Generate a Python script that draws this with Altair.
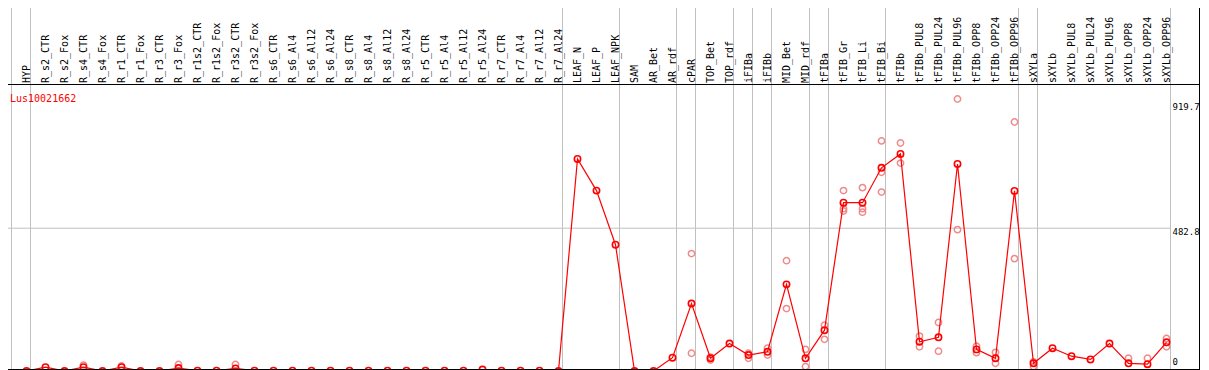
import altair as alt
import pandas as pd

# ---------------- data ----------------
categories = [
    "HYP", "R_s2_CTR", "R_s2_Fox", "R_s4_CTR", "R_s4_Fox", "R_r1_CTR", "R_r1_Fox",
    "R_r3_CTR", "R_r3_Fox", "R_r1s2_CTR", "R_r1s2_Fox", "R_r3s2_CTR", "R_r3s2_Fox",
    "R_s6_CTR", "R_s6_Al4", "R_s6_Al12", "R_s6_Al24", "R_s8_CTR", "R_s8_Al4",
    "R_s8_Al12", "R_s8_Al24", "R_r5_CTR", "R_r5_Al4", "R_r5_Al12", "R_r5_Al24",
    "R_r7_CTR", "R_r7_Al4", "R_r7_Al12", "R_r7_Al24", "LEAF_N", "LEAF_P", "LEAF_NPK",
    "SAM", "AR_Bet", "AR_rdf", "cPAR", "TOP_Bet", "TOP_rdf", "iFIBa", "iFIBb",
    "MID_Bet", "MID_rdf", "tFIBa", "tFIB_Gr", "tFIB_Li", "tFIB_Bi", "tFIBb",
    "tFIBb_PUL8", "tFIBb_PUL24", "tFIBb_PUL96", "tFIBb_OPP8", "tFIBb_OPP24",
    "tFIBb_OPP96", "sXYLa", "sXYLb", "sXYLb_PUL8", "sXYLb_PUL24", "sXYLb_PUL96",
    "sXYLb_OPP8", "sXYLb_OPP24", "sXYLb_OPP96",
]
means = [
    0, 13, 0, 13, 0, 13, 0, 0, 10, 1, 1, 9, 1,
    1, 1, 1, 1, 1, 1, 1, 1, 1, 1, 1, 5, 1, 1, 1, 0,
    717, 610, 427, 0, 0, 45, 228, 43, 93, 54, 65, 293, 43, 138,
    569, 569, 687, 734, 99, 114, 700, 73, 43, 609,
    26, 77, 50, 39, 93, 26, 23, 97,
]
rep_categories = [
    "R_s4_CTR", "R_r1_CTR", "R_r3_Fox", "R_r3s2_CTR",
    "cPAR", "cPAR", "TOP_Bet", "TOP_Bet", "iFIBa", "iFIBa", "iFIBb", "iFIBb",
    "MID_Bet", "MID_Bet", "MID_rdf", "MID_rdf", "tFIBa", "tFIBa",
    "tFIB_Gr", "tFIB_Gr", "tFIB_Gr", "tFIB_Li", "tFIB_Li", "tFIB_Li",
    "tFIB_Bi", "tFIB_Bi", "tFIB_Bi", "tFIBb", "tFIBb",
    "tFIBb_PUL8", "tFIBb_PUL8", "tFIBb_PUL24", "tFIBb_PUL24",
    "tFIBb_PUL96", "tFIBb_PUL96", "tFIBb_OPP8", "tFIBb_OPP8",
    "tFIBb_OPP24", "tFIBb_OPP24", "tFIBb_OPP96", "tFIBb_OPP96",
    "sXYLa", "sXYLa", "sXYLb_OPP8", "sXYLb_OPP24", "sXYLb_OPP96", "sXYLb_OPP96",
]
rep_values = [
    20, 17, 22, 22,
    397, 60, 37, 47, 60, 43, 77, 54,
    373, 211, 73, 15, 155, 107,
    610, 549, 541, 620, 549, 537,
    778, 672, 605, 771, 703,
    118, 82, 164, 67,
    919.7, 478, 84, 62,
    63, 26, 842, 380,
    31, 15, 43, 43, 110, 82,
]
separator_after = [
    "HYP", "R_r7_Al24", "LEAF_NPK", "AR_rdf", "cPAR", "TOP_rdf", "iFIBa", "iFIBb",
    "MID_rdf", "tFIBa", "tFIB_Bi", "tFIBb_OPP96", "sXYLa", "sXYLb_OPP96",
]
tick_values = [919.7, 482.8, 0]
tick_labels = ["919.7", "482.8", "0"]
gridline_values = [482.8]
gene_id = "Lus10021662"

# ---------------- layout ----------------
W, H = 1209, 370
VISIBLE_W = 1201             # page margin leaves this much of the width visible
X0, DX = 26.5, 19.0          # pixel of first category, spacing
Y0 = 371.0                   # pixel of value 0
K = (Y0 - 99.0) / 919.7      # px per unit
FONT = "DejaVu Sans Mono"
GRID = "#c0c0c0"

idx = {c: i for i, c in enumerate(categories)}
mean_df = pd.DataFrame({"cat": categories, "i": list(range(len(categories))), "v": means})
rep_df = pd.DataFrame({"cat": rep_categories,
                       "i": [idx[c] for c in rep_categories], "v": rep_values})
sep_df = pd.DataFrame({"pos": [-1 + 4 / DX] + [idx[c] + 4 / DX for c in separator_after]})
grid_df = pd.DataFrame({"v": gridline_values})

xs = alt.Scale(domain=[-X0 / DX, (W - X0) / DX], range=[0, W], nice=False, zero=False)
ys = alt.Scale(domain=[(Y0 - H) / K, Y0 / K], range=[H, 0], nice=False, zero=False)

X = alt.X("i:Q", scale=xs, axis=None)
Y = alt.Y("v:Q", scale=ys, axis=None)

grid = alt.Chart(grid_df).mark_rule(color=GRID, strokeWidth=1).encode(
    y=Y, x=alt.value(0), x2=alt.value(1170.5))

seps = alt.Chart(sep_df).mark_rule(color=GRID, strokeWidth=1).encode(
    x=alt.X("pos:Q", scale=xs, axis=None), y=alt.value(0), y2=alt.value(H))

reps = alt.Chart(rep_df).mark_point(shape="circle", filled=False, size=40,
                                    strokeWidth=1.5, color="#f08a8a", opacity=1).encode(x=X, y=Y)

line = alt.Chart(mean_df).mark_line(color="#ff0000", strokeWidth=1.2).encode(
    x=X, y=Y, order="i:Q")

pts = alt.Chart(mean_df).mark_point(shape="circle", filled=False, size=40,
                                    strokeWidth=1.6, color="#ff0000", opacity=1).encode(x=X, y=Y)

border_df = pd.DataFrame({"k": [0]})
RIGHT = VISIBLE_W - 1.5
def hrule(y, x1=0, x2=RIGHT + 0.5):
    return alt.Chart(border_df).mark_rule(color="black", strokeWidth=1).encode(
        y=alt.value(y), x=alt.value(x1), x2=alt.value(x2))

def vrule(x, y1=0, y2=H):
    return alt.Chart(border_df).mark_rule(color="black", strokeWidth=1).encode(
        x=alt.value(x), y=alt.value(y1), y2=alt.value(y2))

borders = [hrule(0.5), hrule(84.5), hrule(369.5), vrule(0.5), vrule(RIGHT)]

labels = alt.Chart(mean_df).mark_text(
    angle=270, align="left", baseline="middle", font=FONT, fontSize=10, color="black"
).encode(x=X, y=alt.value(83), text="cat:N")

gene = alt.Chart(pd.DataFrame({"t": [gene_id]})).mark_text(
    align="left", baseline="alphabetic", font=FONT, fontSize=10, color="#ff0000"
).encode(x=alt.value(10), y=alt.value(101.5), text="t:N")

tick_dy = [7.5, 3.5, -9]
ticks = []
for v, t, d in zip(tick_values, tick_labels, tick_dy):
    ticks.append(alt.Chart(pd.DataFrame({"v": [v], "t": [t]})).mark_text(
        align="left", baseline="middle", font=FONT, fontSize=9, color="black", dy=d
    ).encode(x=alt.value(1172.5), y=Y, text="t:N"))

chart = alt.layer(grid, seps, reps, line, pts, *borders, labels, gene, *ticks).properties(
    width=W, height=H, autosize="none",
    padding={"left": -8, "top": -8, "right": -8, "bottom": 0},
    background="white",
).configure_view(stroke=None)

chart.save("out.html", embed_options={"renderer": "svg", "actions": False})
